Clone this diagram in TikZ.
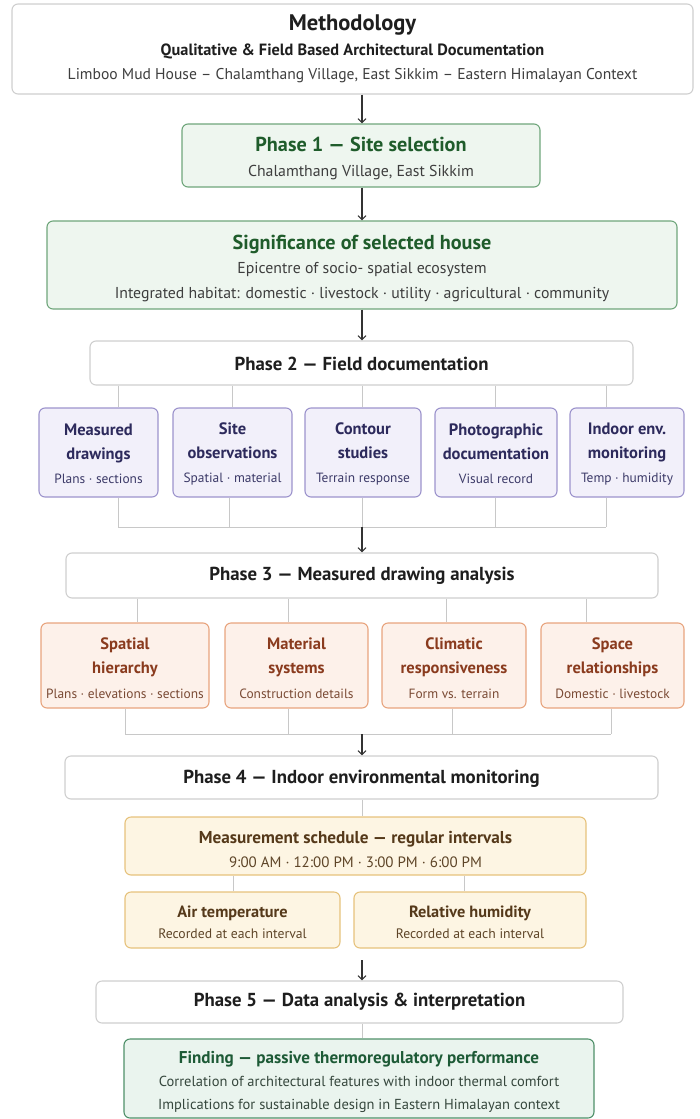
\documentclass[tikz,border=0pt]{standalone}
\usepackage{fontspec}
\setmainfont{PT Sans}
\usetikzlibrary{arrows.meta,calc}
\definecolor{txt}{HTML}{1E1E1E}
\definecolor{subtxt}{HTML}{3E3E3E}
\definecolor{graybd}{HTML}{CFCFCF}
\definecolor{conn}{HTML}{C8C8C8}
\definecolor{arr}{HTML}{333333}
\definecolor{gfill}{HTML}{EEF6EF}
\definecolor{gbd}{HTML}{6FA67B}
\definecolor{gtxt}{HTML}{1F5C2B}
\definecolor{pfill}{HTML}{F2F0FA}
\definecolor{pbd}{HTML}{9C93CC}
\definecolor{ptxt}{HTML}{2D2A5C}
\definecolor{psub}{HTML}{3C3A68}
\definecolor{ofill}{HTML}{FDF1EA}
\definecolor{obd}{HTML}{E8A47E}
\definecolor{otxt}{HTML}{8A3B1E}
\definecolor{osub}{HTML}{7A4A34}
\definecolor{yfill}{HTML}{FDF5E3}
\definecolor{ybd}{HTML}{E6C27C}
\definecolor{ytxt}{HTML}{55391A}
\definecolor{ysub}{HTML}{5E4528}
\definecolor{ffill}{HTML}{EAF4EE}
\definecolor{fbd}{HTML}{4F9069}
\definecolor{ftxt}{HTML}{1D5A36}
\definecolor{fsub}{HTML}{36473D}
\newcommand{\skipto}[1]{\fontsize{12}{#1}\selectfont}
\newcommand{\tstrut}[1]{\rule{0pt}{#1}}
\tikzset{
  x=1pt, y=-1pt,
  boxbase/.style={draw, rounded corners=6pt, line width=1.1pt, align=center, inner sep=0pt, text=txt, font=\skipto{24}},
  whitebar/.style={boxbase, draw=graybd, fill=white},
  greenbox/.style={boxbase, draw=gbd, fill=gfill},
  purplebox/.style={boxbase, draw=pbd, fill=pfill, minimum height=89pt},
  orangebox/.style={boxbase, draw=obd, fill=ofill, minimum height=85pt, font=\skipto{24.5}},
  yellowbox/.style={boxbase, draw=ybd, fill=yfill},
  findbox/.style={boxbase, draw=fbd, fill=ffill, font=\skipto{23}},
  conn/.style={draw=conn, line width=1pt},
  flow/.style={draw=arr, line width=1.1pt, -{Straight Barb[length=4pt,width=8pt]}},
}
\newcommand{\Htitle}{\bfseries\fontsize{22.5}{25}\selectfont}
\newcommand{\Hsub}{\bfseries\fontsize{16.3}{25}\selectfont}
\newcommand{\Hline}{\fontsize{15.6}{24}\selectfont}
\newcommand{\Gtitle}{\bfseries\fontsize{20.2}{25}\selectfont}
\newcommand{\Bartitle}{\bfseries\fontsize{18.8}{25}\selectfont}
\newcommand{\Psub}{\fontsize{15.8}{24}\selectfont}
\newcommand{\Btitle}{\bfseries\fontsize{16.5}{24}\selectfont}
\newcommand{\Bsub}{\fontsize{13.4}{24}\selectfont}
\newcommand{\Stitle}{\bfseries\fontsize{17.2}{24}\selectfont}
\newcommand{\Ssub}{\fontsize{15}{24}\selectfont}
\newcommand{\Atitle}{\bfseries\fontsize{16.3}{21}\selectfont}
\newcommand{\Asub}{\fontsize{13.7}{21}\selectfont}
\newcommand{\Ftitle}{\bfseries\fontsize{17.1}{24}\selectfont}
\newcommand{\Fsub}{\fontsize{14.5}{24}\selectfont}
\begin{document}
\begin{tikzpicture}
\useasboundingbox (0,0) rectangle (700,1119);
% header
\node[whitebar, minimum width=681pt, minimum height=90pt, font=\skipto{24.5}] (head) at (352.5,49)
  {\Htitle\tstrut{16pt}Methodology\\ \Hsub Qualitative \& Field Based Architectural Documentation\\ \Hline\color{subtxt} Limboo Mud House – Chalamthang Village, East Sikkim – Eastern Himalayan Context};
% phase 1
\node[greenbox, minimum width=358pt, minimum height=63pt, font=\skipto{25}] (p1) at (361,155.5)
  {\Gtitle\color{gtxt}\tstrut{21pt}Phase 1 — Site selection\\ \Psub\color{subtxt} Chalamthang Village, East Sikkim};
\node[greenbox, minimum width=630pt, minimum height=88pt, font=\skipto{24.5}] (sig) at (362,265)
  {\Gtitle\color{gtxt}\tstrut{21pt}Significance of selected house\\ \Psub\color{subtxt} Epicentre of socio- spatial ecosystem\\ \Psub\color{subtxt} Integrated habitat: domestic · livestock · utility · agricultural · community};
% phase 2
\node[whitebar, minimum width=543pt, minimum height=44pt] (p2) at (361.5,363)
  {\Bartitle\tstrut{16pt}Phase 2 — Field documentation};
\node[purplebox, minimum width=119pt] (m1) at (98.5,452.5)
  {\Btitle\color{ptxt}\tstrut{15pt}Measured\\ \Btitle\color{ptxt} drawings\\ \Bsub\color{psub} Plans · sections};
\node[purplebox, minimum width=119pt] (m2) at (232.5,452.5)
  {\Btitle\color{ptxt}\tstrut{15pt}Site\\ \Btitle\color{ptxt} observations\\ \Bsub\color{psub} Spatial · material};
\node[purplebox, minimum width=116pt] (m3) at (363,452.5)
  {\Btitle\color{ptxt}\tstrut{15pt}Contour\\ \Btitle\color{ptxt} studies\\ \Bsub\color{psub} Terrain response};
\node[purplebox, minimum width=122pt] (m4) at (496,452.5)
  {\Btitle\color{ptxt}\tstrut{15pt}Photographic\\ \Btitle\color{ptxt} documentation\\ \Bsub\color{psub} Visual record};
\node[purplebox, minimum width=114pt] (m5) at (627,452.5)
  {\Btitle\color{ptxt}\tstrut{15pt}Indoor env.\\ \Btitle\color{ptxt} monitoring\\ \Bsub\color{psub} Temp · humidity};
% phase 3
\node[whitebar, minimum width=592pt, minimum height=45pt] (p3) at (362,575.5)
  {\Bartitle Phase 3 — Measured drawing analysis};
\node[orangebox, minimum width=168pt] (o1) at (125,665.5)
  {\Btitle\color{otxt}\tstrut{17pt}Spatial\\ \Btitle\color{otxt} hierarchy\\ \Bsub\color{osub} Plans · elevations · sections};
\node[orangebox, minimum width=143pt] (o2) at (296.5,665.5)
  {\Btitle\color{otxt}\tstrut{17pt}Material\\ \Btitle\color{otxt} systems\\ \Bsub\color{osub} Construction details};
\node[orangebox, minimum width=144pt] (o3) at (454,665.5)
  {\Btitle\color{otxt}\tstrut{17pt}Climatic\\ \Btitle\color{otxt} responsiveness\\ \Bsub\color{osub} Form vs. terrain};
\node[orangebox, minimum width=143pt] (o4) at (612.5,665.5)
  {\Btitle\color{otxt}\tstrut{17pt}Space\\ \Btitle\color{otxt} relationships\\ \Bsub\color{osub} Domestic · livestock};
% phase 4
\node[whitebar, minimum width=593pt, minimum height=43pt] (p4) at (361.5,777.5)
  {\Bartitle\tstrut{16pt}Phase 4 — Indoor environmental monitoring};
\node[yellowbox, minimum width=461pt, minimum height=58pt] (sch) at (355.5,846)
  {\Stitle\color{ytxt}\tstrut{19pt}Measurement schedule — regular intervals\\ \Ssub\color{ysub} 9:00 AM · 12:00 PM · 3:00 PM · 6:00 PM};
\node[yellowbox, minimum width=215pt, minimum height=56pt, font=\skipto{21}] (air) at (232.5,920)
  {\Atitle\color{ytxt}\tstrut{16.5pt}Air temperature\\ \Asub\color{ysub} Recorded at each interval};
\node[yellowbox, minimum width=232pt, minimum height=56pt, font=\skipto{21}] (rh) at (470,920)
  {\Atitle\color{ytxt}\tstrut{16.5pt}Relative humidity\\ \Asub\color{ysub} Recorded at each interval};
% phase 5
\node[whitebar, minimum width=527pt, minimum height=42pt] (p5) at (359.5,1002)
  {\Bartitle Phase 5 — Data analysis \& interpretation};
\node[findbox, minimum width=470pt, minimum height=79pt] (fin) at (359,1078.5)
  {\Ftitle\color{ftxt}\tstrut{19.5pt}Finding — passive thermoregulatory performance\\ \Fsub\color{fsub} Correlation of architectural features with indoor thermal comfort\\ \Fsub\color{fsub} Implications for sustainable design in Eastern Himalayan context};
% coordinates
\coordinate (bus2) at (362,527);
\coordinate (bus3) at (362,734);
\coordinate (pre5) at (362,960);
% flow arrows
\draw[flow] (head.south -| 362,0) -- (p1.north -| 362,0);
\draw[flow] (p1.south -| 362,0) -- (sig.north -| 362,0);
\draw[flow] (sig.south -| 362,0) -- (p2.north -| 362,0);
% phase 2 connectors
\foreach \n/\x in {m1/118, m2/232, m3/362, m4/495, m5/606}
  \draw[conn] (p2.south -| \x,0) -- (\n.north -| \x,0);
\foreach \n/\x in {m1/118, m2/229, m3/362, m4/495, m5/606}
  \draw[conn] (\n.south -| \x,0) -- (bus2 -| \x,0);
\draw[conn] (bus2 -| 118,0) -- (bus2 -| 606,0);
\draw[flow] (bus2) -- (p3.north -| bus2);
% phase 3 connectors
\foreach \n/\x in {o1/137, o2/288, o3/446, o4/586}
  \draw[conn] (p3.south -| \x,0) -- (\n.north -| \x,0);
\foreach \n/\x in {o1/125, o2/288, o3/452, o4/611}
  \draw[conn] (\n.south -| \x,0) -- (bus3 -| \x,0);
\draw[conn] (bus3 -| 125,0) -- (bus3 -| 611,0);
\draw[flow] (bus3) -- (p4.north -| bus3);
% phase 4 connectors
\draw[conn] (p4.south -| 362,0) -- (sch.north -| 362,0);
\draw[conn] (sch.south -| 233,0) -- (air.north -| 233,0);
\draw[conn] (sch.south -| 464,0) -- (rh.north -| 464,0);
\draw[flow] (pre5) -- (p5.north -| pre5);
% phase 5
\draw[conn] (p5.south -| 362,0) -- (fin.north -| 362,0);
\end{tikzpicture}
\end{document}
